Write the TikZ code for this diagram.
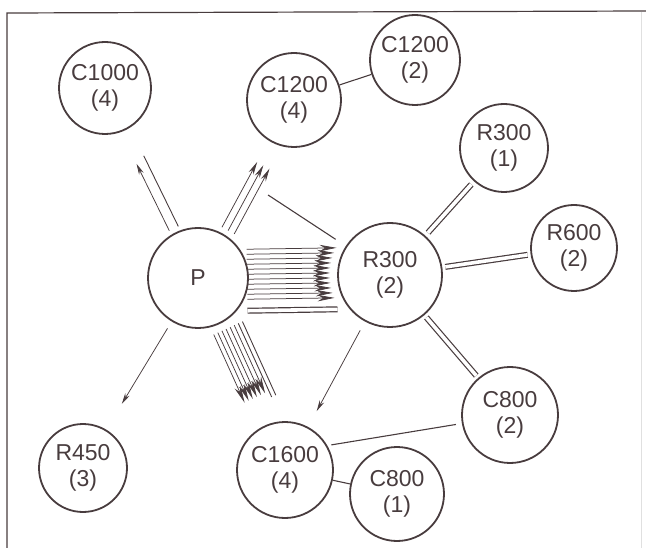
\documentclass[tikz,border=0pt]{standalone}
\usepackage{fontspec}
\setmainfont{Liberation Sans}
\usetikzlibrary{arrows.meta,calc}
\definecolor{ink}{RGB}{72,60,62}

% one strand of a bundle: [style]{from}{to}{offset}{gap at from}{gap at to}
\newcommand{\strand}[6][]{%
  \draw[#1] ($(#2)!#5!(#3)!#4!90:(#3)$) -- ($(#3)!#6!(#2)!#4!-90:(#2)$);}

\begin{document}
\begin{tikzpicture}[x=1pt,y=-1pt,>={Stealth[length=11pt,width=5pt]},
  font=\fontsize{23}{26}\selectfont,
  comp/.style={circle,draw=ink,line width=1.8pt,text=ink,align=center,
    inner sep=0pt,minimum size=#1},
  comp/.default=92pt,
  wire/.style={ink,line width=1.1pt},
  feed/.style={ink,line width=.75pt,->},
  bundle/.style={ink,line width=.75pt,-{Stealth[length=17pt,width=6.5pt]}},
  twin/.style={ink,line width=1.2pt,double=white,double distance=3.6pt}]
 \useasboundingbox (0,0) rectangle (646,548);
 \draw[ink,line width=1.2pt] (7,548) -- (7,13) -- (646,11);
 \draw[black!12] (641,12) -- (641,548);
 % components
 \node[comp] (C1000) at (105,88) {C1000\\(4)};
 \node[comp=94pt] (C1200a) at (294,100) {C1200\\(4)};
 \node[comp=90pt] (C1200b) at (415,60) {C1200\\(2)};
 \node[comp=88pt] (R300a) at (504,148) {R300\\(1)};
 \node[comp=86pt] (R600) at (574,248) {R600\\(2)};
 \node[comp=100pt] (P) at (198,278) {P};
 \node[comp=104pt] (R300b) at (390,275) {R300\\(2)};
 \node[comp=88pt] (R450) at (83,468) {R450\\(3)};
 \node[comp=96pt] (C1600) at (285,470) {C1600\\(4)};
 \node[comp=96pt] (C800b) at (510,415) {C800\\(2)};
 \node[comp=94pt] (C800a) at (397,494) {C800\\(1)};
 % flows out of P
 \strand[feed]{P}{C1000}{5pt}{55pt}{82pt}
 \strand[wire,line width=.9pt]{P}{C1000}{-5pt}{55pt}{78pt}
 \foreach \o in {3pt,-4pt,-11pt}{\strand[feed,-{Stealth[length=13pt,width=5.5pt]}]{P}{C1200a}{\o}{56pt}{72pt}}
 \foreach \o in {28,23,...,-22}{
   \pgfmathsetlengthmacro\off{\o}
   \pgfmathsetlengthmacro\gap{sqrt(3600-\o*\o)}
   \strand[bundle]{P}{R300b}{\off}{49pt}{\gap}}
 \strand[twin]{P}{R300b}{-33.5pt}{49pt}{53pt}
 \foreach \o in {-9pt,-4.5pt,0pt,4.5pt,9pt,13.5pt}{\strand[bundle]{P}{C1600}{\o}{58pt}{78pt}}
 \foreach \o in {18pt,22.5pt}{\strand[wire,line width=.9pt]{P}{C1600}{\o}{58pt}{72pt}}
 \draw[feed,shorten <=8pt,shorten >=30pt] (P) -- (R450);
 % around R300 (2)
 \draw[wire] ($(R300b)!65pt!(C1000)$) -- ($(C1000)!195pt!(R300b)$);
 \draw[feed,shorten <=10pt,shorten >=18pt] (R300b) -- (C1600);
 \draw[twin,shorten <=4pt,shorten >=4pt] (R300b) -- (R300a);
 \draw[twin,shorten <=3pt,shorten >=3pt] (R300b) -- (R600);
 \draw[twin,shorten <=3pt,shorten >=3pt] (R300b) -- (C800b);
 % neighbours
 \draw[wire] (C1200a) -- (C1200b);
 \draw[wire] (C1600) -- (C800a);
 \draw[wire,shorten <=4pt,shorten >=6pt] (C1600.30) -- (C800b.190);
\end{tikzpicture}
\end{document}
